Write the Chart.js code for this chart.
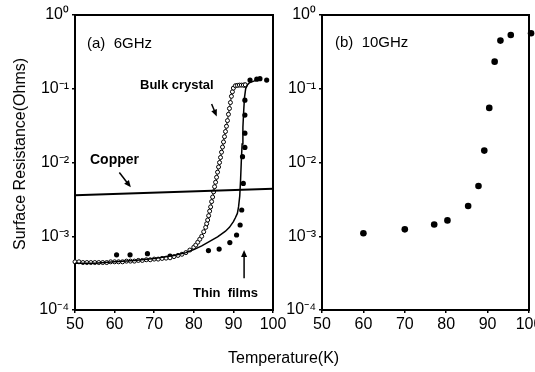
<!DOCTYPE html>
<html>
<head>
<meta charset="utf-8">
<script src="https://cdn.jsdelivr.net/npm/chart.js@4.4.0/dist/chart.umd.min.js"></script>
<style>
body { margin: 0; background: #fff; width: 535px; height: 372px; overflow: hidden; position: relative;
       font-family: "Liberation Sans", Arial, sans-serif; color: #000; }
#wrapA { position: absolute; left: 0; top: 0; width: 300px; height: 372px; }
#wrapB { position: absolute; left: 280px; top: 0; width: 255px; height: 372px; }
.lbl { position: absolute; white-space: pre; line-height: 1; }
.b { font-weight: bold; }
#ytitle { position: absolute; left: 20px; top: 154px; font-size: 16px; white-space: nowrap;
          transform: translate(-50%, -50%) rotate(-90deg); }
</style>
</head>
<body>
<div id="wrapA"><canvas id="chartA" width="300" height="372"></canvas></div>
<div id="wrapB"><canvas id="chartB" width="255" height="372"></canvas></div>
<div class="lbl" style="left:87px;top:35px;font-size:15px">(a)  6GHz</div>
<div class="lbl b" style="left:140px;top:78px;font-size:13px">Bulk crystal</div>
<div class="lbl b" style="left:90px;top:152px;font-size:14px">Copper</div>
<div class="lbl b" style="left:193px;top:286px;font-size:13px">Thin  films</div>
<div class="lbl" style="left:335px;top:34px;font-size:15px">(b)  10GHz</div>
<div class="lbl" style="left:228px;top:350px;font-size:16px">Temperature(K)</div>
<div id="ytitle">Surface  Resistance(Ohms)</div>
<script>
// axis ticks
const xTicks = [50, 60, 70, 80, 90, 100];
const xTickLabels = ['50', '60', '70', '80', '90', '100'];
const yTicks = [1e-4, 1e-3, 1e-2, 1e-1, 1];
const yTickLabels = ['10\u207B\u2074', '10\u207B\u00B3', '10\u207B\u00B2', '10\u207B\u00B9', '10\u2070'];

// (a) 6GHz - bulk crystal (open circles)
const bulkT = [50, 51, 52, 53, 54, 55, 56, 57, 58, 59, 60, 61, 62, 63, 64, 65, 66, 67, 68, 69, 70, 71, 72, 73, 74,
    75, 76, 77, 78, 79, 80, 80.5, 81, 81.5, 82, 82.5,
    83, 83.25, 83.5, 83.75, 84, 84.25, 84.5, 84.75, 85, 85.25, 85.5, 85.75, 86, 86.25, 86.5, 86.75,
    87, 87.25, 87.5, 87.75, 88, 88.25, 88.5, 88.75, 89, 89.25, 89.5, 89.75, 90, 90.5, 91, 91.5, 92, 92.5, 93];
const bulkR = [4.5e-4, 4.5e-4, 4.4e-4, 4.4e-4, 4.4e-4, 4.4e-4, 4.4e-4, 4.4e-4, 4.4e-4, 4.5e-4, 4.5e-4, 4.5e-4, 4.5e-4,
    4.6e-4, 4.6e-4, 4.6e-4, 4.7e-4, 4.7e-4, 4.8e-4, 4.8e-4, 4.9e-4, 4.9e-4, 5.0e-4, 5.05e-4, 5.1e-4,
    5.3e-4, 5.5e-4, 5.7e-4, 6.0e-4, 6.5e-4, 7.1e-4, 7.6e-4, 8.3e-4, 9.1e-4, 1.0e-3, 1.15e-3,
    1.32e-3, 1.48e-3, 1.66e-3, 1.9e-3, 2.19e-3, 2.5e-3, 2.95e-3, 3.4e-3, 4.0e-3, 4.7e-3, 5.4e-3, 6.3e-3, 7.4e-3, 8.7e-3, 1.0e-2, 1.17e-2,
    1.38e-2, 1.62e-2, 1.9e-2, 2.24e-2, 2.63e-2, 3.1e-2, 3.7e-2, 4.5e-2, 5.4e-2, 6.5e-2, 7.9e-2, 9.1e-2, 0.102, 0.110, 0.111, 0.112, 0.112, 0.112, 0.113];

// (a) 6GHz - thin films fit line
const filmFitT = [50, 55, 60, 65, 70, 75, 78, 80, 82, 84, 86, 88, 89, 90, 90.5, 91, 91.3, 91.6, 91.8, 92, 92.2, 92.4, 92.6, 92.8, 93.1, 93.5, 94, 95, 96, 97];
const filmFitR = [4.3e-4, 4.3e-4, 4.5e-4, 4.7e-4, 5.0e-4, 5.5e-4, 6.0e-4, 6.6e-4, 7.4e-4, 8.5e-4, 9.8e-4, 1.17e-3, 1.32e-3, 1.58e-3, 1.78e-3, 2.04e-3, 2.5e-3, 3.5e-3, 5.6e-3, 1.05e-2, 1.78e-2, 3.0e-2, 5.0e-2, 7.6e-2, 0.10, 0.112, 0.12, 0.126, 0.132, 0.135];

// (a) 6GHz - thin films measured points
const filmT = [60.5, 63.9, 68.3, 74, 83.7, 86.4, 89.1, 90.8, 91.7, 92.1, 92.5, 92.3, 92.9, 92.9, 92.9, 92.9, 92.9, 94.2, 95.9, 96.7, 98.4];
const filmR = [5.6e-4, 5.6e-4, 5.8e-4, 5.4e-4, 6.4e-4, 6.7e-4, 8.2e-4, 1.04e-3, 1.42e-3, 2.27e-3, 5.2e-3, 1.2e-2, 1.6e-2, 2.5e-2, 4.4e-2, 7.0e-2, 0.112, 0.131, 0.135, 0.137, 0.131];

// copper reference line
const copperT = [50, 100];
const copperR = [3.6e-3, 4.4e-3];

// (b) 10GHz
const tenT = [60, 70, 77.1, 80.3, 85.3, 87.8, 89.2, 90.4, 91.7, 93.1, 95.6, 100.5];
const tenR = [1.1e-3, 1.24e-3, 1.44e-3, 1.64e-3, 2.57e-3, 4.8e-3, 1.45e-2, 5.5e-2, 0.233, 0.45, 0.535, 0.565];

// annotation arrows in data units: [T, R] from -> to (head at "to")
const arrowsA = [
    { from: [84.5, 0.062], to: [85.8, 0.042] },
    { from: [61.2, 7.3e-3], to: [64.1, 4.6e-3] },
    { from: [92.7, 2.7e-4], to: [92.7, 6.5e-4] }
];

const pts = (xs, ys) => xs.map((x, i) => ({ x: x, y: ys[i] }));
const FONT = '"Liberation Sans", Arial, sans-serif';

const framePlugin = {
    id: 'frame',
    beforeDatasetsDraw(chart) {
        const { ctx, chartArea: a } = chart;
        ctx.save();
        ctx.strokeStyle = '#000';
        ctx.lineWidth = 2;
        ctx.strokeRect(a.left, a.top, a.right - a.left, a.bottom - a.top);
        ctx.restore();
    }
};

const arrowPlugin = {
    id: 'arrows',
    afterDatasetsDraw(chart, args, opts) {
        const { ctx, scales: { x, y } } = chart;
        (opts.list || []).forEach(a => {
            const x0 = x.getPixelForValue(a.from[0]), y0 = y.getPixelForValue(a.from[1]);
            const x1 = x.getPixelForValue(a.to[0]), y1 = y.getPixelForValue(a.to[1]);
            const ang = Math.atan2(y1 - y0, x1 - x0);
            ctx.save();
            ctx.strokeStyle = '#000';
            ctx.fillStyle = '#000';
            ctx.lineWidth = 1.5;
            ctx.beginPath();
            ctx.moveTo(x0, y0);
            ctx.lineTo(x1 - 4 * Math.cos(ang), y1 - 4 * Math.sin(ang));
            ctx.stroke();
            ctx.beginPath();
            ctx.moveTo(x1, y1);
            ctx.lineTo(x1 - 7 * Math.cos(ang) + 3 * Math.sin(ang), y1 - 7 * Math.sin(ang) - 3 * Math.cos(ang));
            ctx.lineTo(x1 - 7 * Math.cos(ang) - 3 * Math.sin(ang), y1 - 7 * Math.sin(ang) + 3 * Math.cos(ang));
            ctx.closePath();
            ctx.fill();
            ctx.restore();
        });
    }
};

function scalesFor(yWidth) {
    return {
        x: {
            type: 'linear', min: 50, max: 100,
            afterBuildTicks: s => { s.ticks = xTicks.map(v => ({ value: v })); },
            afterFit: s => { s.height = 62; s.paddingLeft = 0; s.paddingRight = 0; },
            ticks: {
                callback: (v, i) => xTickLabels[i],
                autoSkip: false, maxRotation: 0, padding: 2,
                color: '#000', font: { family: FONT, size: 16 }
            },
            grid: { drawOnChartArea: false, drawTicks: true, tickLength: 3, color: '#000', lineWidth: 1.5 },
            border: { display: false }
        },
        y: {
            type: 'logarithmic', min: 1e-4, max: 1,
            afterBuildTicks: s => { s.ticks = yTicks.map(v => ({ value: v })); },
            afterFit: s => { s.width = yWidth; },
            ticks: {
                callback: (v, i) => yTickLabels[i],
                autoSkip: false, padding: 3,
                color: '#000', font: { family: FONT, size: 16 }
            },
            grid: { drawOnChartArea: false, drawTicks: true, tickLength: 3, color: '#000', lineWidth: 1.5 },
            border: { display: false }
        }
    };
}

Chart.defaults.animation = false;
Chart.defaults.events = [];

// Panel (a) 6GHz
new Chart(document.getElementById('chartA'), {
    type: 'scatter',
    data: {
        datasets: [
            {
                label: 'Copper',
                data: pts(copperT, copperR),
                showLine: true, borderColor: '#000', borderWidth: 2,
                pointRadius: 0, clip: false
            },
            {
                label: 'Thin films (fit)',
                data: pts(filmFitT, filmFitR),
                showLine: true, borderColor: '#000', borderWidth: 1.5,
                pointRadius: 0, clip: false
            },
            {
                label: 'Bulk crystal',
                data: pts(bulkT, bulkR),
                showLine: true, borderColor: '#000', borderWidth: 1,
                pointRadius: 2, pointBorderWidth: 1,
                pointBackgroundColor: '#fff', pointBorderColor: '#000', clip: false
            },
            {
                label: 'Thin films',
                data: pts(filmT, filmR),
                pointRadius: 2.6, pointBackgroundColor: '#000', pointBorderColor: '#000',
                pointBorderWidth: 0, clip: false
            }
        ]
    },
    options: {
        responsive: false,
        devicePixelRatio: 1,
        layout: { padding: { left: 0, top: 15, right: 27, bottom: 0 } },
        plugins: {
            legend: { display: false },
            tooltip: { enabled: false },
            arrows: { list: arrowsA }
        },
        scales: scalesFor(75)
    },
    plugins: [framePlugin, arrowPlugin]
});

// Panel (b) 10GHz
new Chart(document.getElementById('chartB'), {
    type: 'scatter',
    data: {
        datasets: [
            {
                label: '10GHz',
                data: pts(tenT, tenR),
                pointRadius: 3.3, pointBackgroundColor: '#000', pointBorderColor: '#000',
                pointBorderWidth: 0, clip: false
            }
        ]
    },
    options: {
        responsive: false,
        devicePixelRatio: 1,
        layout: { padding: { left: 0, top: 15, right: 6, bottom: 0 } },
        plugins: {
            legend: { display: false },
            tooltip: { enabled: false }
        },
        scales: scalesFor(42)
    },
    plugins: [framePlugin]
});
</script>
</body>
</html>
